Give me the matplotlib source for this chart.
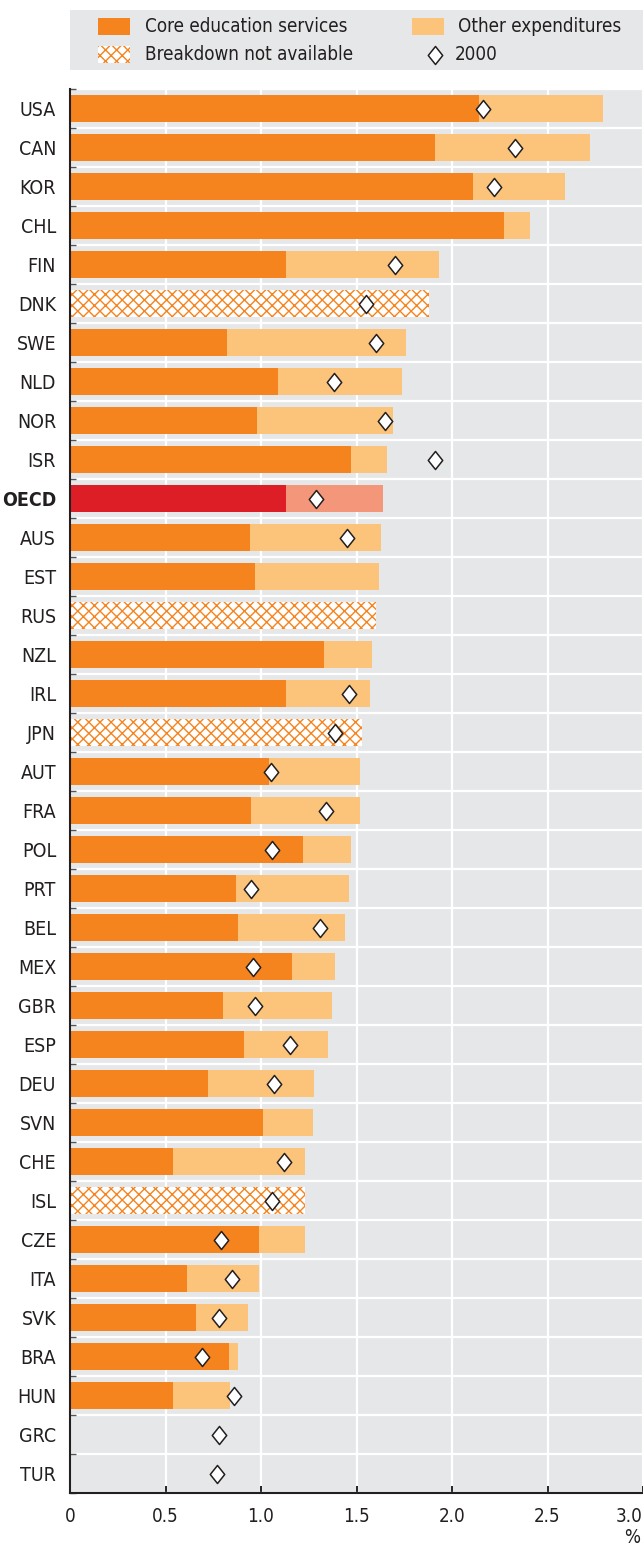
import numpy as np
import matplotlib.pyplot as plt
from matplotlib.patches import Rectangle
from matplotlib.path import Path

plt.rcParams["font.family"] = ["DejaVu Sans"]
plt.rcParams["font.stretch"] = "condensed"
plt.rcParams["hatch.linewidth"] = 1.0

countries = ["USA", "CAN", "KOR", "CHL", "FIN", "DNK", "SWE", "NLD", "NOR", "ISR",
             "OECD", "AUS", "EST", "RUS", "NZL", "IRL", "JPN", "AUT", "FRA", "POL",
             "PRT", "BEL", "MEX", "GBR", "ESP", "DEU", "SVN", "CHE", "ISL", "CZE",
             "ITA", "SVK", "BRA", "HUN", "GRC", "TUR"]
# core education services (nan where breakdown not available / no data)
core = [2.14, 1.91, 2.11, 2.27, 1.13, np.nan, 0.82, 1.09, 0.98, 1.47,
        1.13, 0.94, 0.97, np.nan, 1.33, 1.13, np.nan, 1.04, 0.95, 1.22,
        0.87, 0.88, 1.16, 0.80, 0.91, 0.72, 1.01, 0.54, np.nan, 0.99,
        0.61, 0.66, 0.83, 0.54, np.nan, np.nan]
# total expenditure (core + other)
total = [2.79, 2.72, 2.59, 2.41, 1.93, 1.88, 1.76, 1.74, 1.69, 1.66,
         1.64, 1.63, 1.62, 1.60, 1.58, 1.57, 1.53, 1.52, 1.52, 1.47,
         1.46, 1.44, 1.39, 1.37, 1.35, 1.28, 1.27, 1.23, 1.23, 1.23,
         0.99, 0.93, 0.88, 0.84, np.nan, np.nan]
no_breakdown = ["DNK", "RUS", "JPN", "ISL"]
val_2000 = [2.16, 2.33, 2.22, np.nan, 1.70, 1.55, 1.60, 1.38, 1.65, 1.91,
            1.29, 1.45, np.nan, np.nan, np.nan, 1.46, 1.39, 1.05, 1.34, 1.06,
            0.95, 1.31, 0.96, 0.97, 1.15, 1.07, np.nan, 1.12, 1.06, 0.79,
            0.85, 0.78, 0.69, 0.86, 0.78, 0.77]

ORANGE = "#F5841F"
LIGHT = "#FCC47A"
RED = "#DE1E26"
SALMON = "#F4967A"
BG = "#E6E7E8"
INK = "#231F20"

core = np.array(core)
total = np.array(total)
val_2000 = np.array(val_2000)
y = np.arange(len(countries))

diamond = Path([(0, 1), (0.8, 0), (0, -1), (-0.8, 0), (0, 1)],
               [Path.MOVETO, Path.LINETO, Path.LINETO, Path.LINETO, Path.CLOSEPOLY])

fig = plt.figure(figsize=(6.43, 15.53), dpi=100)
ax = fig.add_axes([70 / 643, 60 / 1553, 573 / 643, 1404 / 1553])
ax.set_facecolor(BG)

hatched = np.array([c in no_breakdown for c in countries])
is_oecd = np.array([c == "OECD" for c in countries])
core_col = np.array([RED if o else ORANGE for o in is_oecd])
other_col = np.array([SALMON if o else LIGHT for o in is_oecd])

ok = ~np.isnan(core)
ax.barh(y[ok], core[ok], height=0.7, color=core_col[ok], lw=0, zorder=2)
ax.barh(y[ok], (total - core)[ok], left=core[ok], height=0.7,
        color=other_col[ok], lw=0, zorder=2)
ax.barh(y[hatched], total[hatched], height=0.7, facecolor="white",
        edgecolor=ORANGE, hatch="xxx", lw=0, zorder=2)

m = ~np.isnan(val_2000)
ax.plot(val_2000[m], y[m], ls="none", marker=diamond, ms=13,
        mfc="white", mec=INK, mew=1.1, zorder=3)

ax.set_xlim(0, 3.0)
ax.set_ylim(len(countries) - 0.5, -0.5)
ax.set_xticks(np.arange(0, 3.01, 0.5))
ax.set_xticklabels(["0", "0.5", "1.0", "1.5", "2.0", "2.5", "3.0"])
ax.set_yticks(y)
ax.set_yticklabels(countries)
ax.set_yticks(np.arange(-0.5, len(countries), 1), minor=True)
ax.grid(axis="x", which="major", color="white", lw=1.6)
ax.grid(axis="y", which="minor", color="white", lw=1.6)
ax.set_axisbelow(True)

ax.tick_params(axis="y", which="major", length=0, pad=10, labelsize=14, labelcolor=INK)
ax.tick_params(axis="y", which="minor", direction="in", length=4, width=1, color="#555555")
ax.tick_params(axis="x", direction="in", length=5, width=1.2, pad=10, labelsize=13.5,
               labelcolor=INK)
for t in ax.get_yticklabels():
    if t.get_text() == "OECD":
        t.set_fontweight("bold")
ax.get_xticklabels()[-1].set_horizontalalignment("right")
ax.get_xticklabels()[-1].set_x(3.02)
for s in ["top", "right"]:
    ax.spines[s].set_visible(False)
for s in ["left", "bottom"]:
    ax.spines[s].set_color(INK)
    ax.spines[s].set_linewidth(1.5)

fig.text(0.995, 0.004, "%", ha="right", va="bottom", fontsize=13.5, color=INK)

# legend box
lax = fig.add_axes([70 / 643, 1483 / 1553, 573 / 643, 60 / 1553])
lax.set_xlim(0, 573)
lax.set_ylim(60, 0)
lax.axis("off")
lax.add_patch(Rectangle((0, 0), 573, 60, color=BG, lw=0))
lax.add_patch(Rectangle((28, 8), 32, 17, color=ORANGE, lw=0))
lax.add_patch(Rectangle((28, 36), 32, 17, facecolor="white", edgecolor=ORANGE, hatch="xxx", lw=0))
lax.add_patch(Rectangle((342, 8), 32, 17, color=LIGHT, lw=0))
lax.plot([365], [44.5], ls="none", marker=diamond, ms=13, mfc="white", mec=INK, mew=1.1)
lkw = dict(fontsize=13.5, color=INK, va="center", ha="left")
lax.text(75, 16.5, "Core education services", **lkw)
lax.text(75, 44.5, "Breakdown not available", **lkw)
lax.text(388, 16.5, "Other expenditures", **lkw)
lax.text(385, 44.5, "2000", **lkw)

fig.savefig("out.png", dpi=100)
